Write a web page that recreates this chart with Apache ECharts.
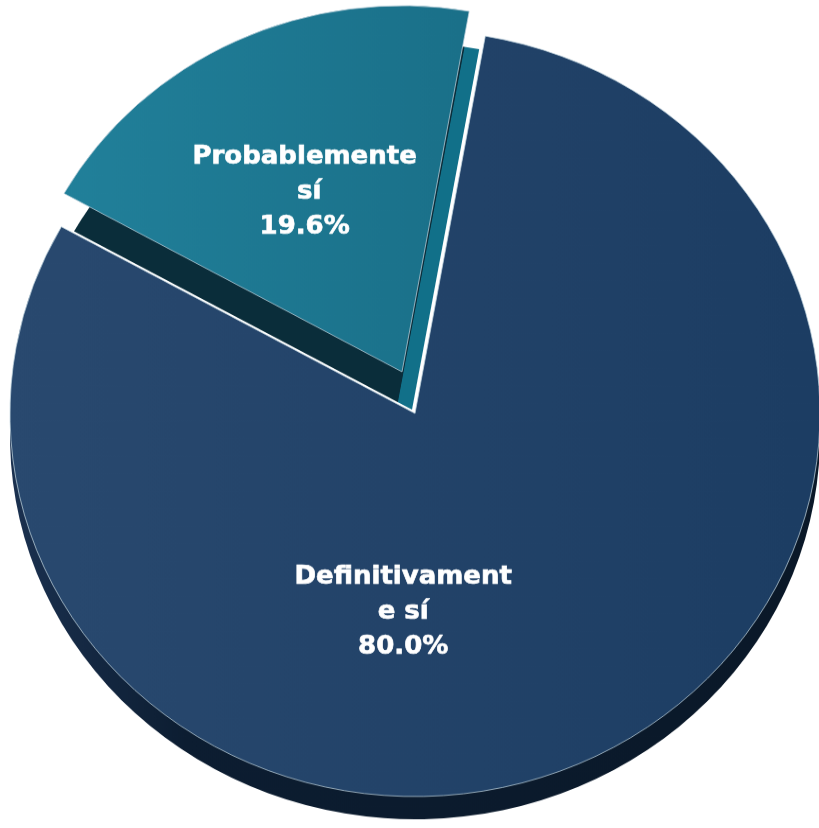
<!DOCTYPE html>
<html>
<head>
<meta charset="utf-8">
<script src="https://cdn.jsdelivr.net/npm/echarts@6/dist/echarts.min.js"></script>
<style>
  html, body { margin: 0; padding: 0; background: #ffffff; overflow: hidden; }
  /* the pie is viewed slightly tilted, so the drawing is flattened vertically */
  #chart { width: 819px; height: 875px; transform: scaleY(0.946); transform-origin: 0 0; }
</style>
</head>
<body>
<div id="chart"></div>
<script>
// Answer categories and their shares (%)
const categories = ['Definitivamente sí', 'Probablemente sí'];
const shares = [80.0, 19.6];

const START = 80;           // first slice starts just right of 12 o'clock
const main = { c: [415, 437], r: 405, side: [0, 24] };    // large slice
const pulled = { c: [402, 393], r: 387, side: [10, 40] }; // exploded slice, further back

const transparent = 'rgba(0,0,0,0)';

function hGrad(stops) {
  return new echarts.graphic.LinearGradient(0, 0, 1, 0,
    stops.map(s => ({ offset: s[0], color: s[1] })));
}

// dark side under the exploded slice, with the lighter sliver along its right edge
const pulledSide = new echarts.graphic.LinearGradient(439.3, 77.6, 478.7, 84.6, [
  { offset: 0, color: '#0a2d3a' },
  { offset: 0.49, color: '#0a2d3a' },
  { offset: 0.51, color: '#117089' },
  { offset: 1, color: '#117089' }
], true);

const styles = {
  mainTop: hGrad([[0, '#29496f'], [1, '#1c3d63']]),
  mainSide: hGrad([[0, '#1b3150'], [0.22, '#0c1d31'], [1, '#0a1828']]),
  pulledTop: hGrad([[0, '#21809a'], [1, '#1a7089']]),
  pulledSide: pulledSide
};

// one item visible, the other kept only so the angles follow the data
function buildData(visible, color, withLabel) {
  return categories.map((name, i) => ({
    name: name,
    value: shares[i],
    itemStyle: i === visible
      ? { color: color }
      : { color: transparent, borderWidth: 0 },
    label: { show: withLabel && i === visible }
  }));
}

const labelStyle = {
  position: 'inside',
  color: '#ffffff',
  fontFamily: 'DejaVu Sans',
  fontWeight: 'bold',
  fontSize: 26,
  lineHeight: 37,
  align: 'center',
  width: 228,
  overflow: 'break',
  textBorderColor: '#ffffff',
  textBorderWidth: 0.7,
  formatter: p => p.name + '\n' + p.value.toFixed(1) + '%'
};

function pie(geom, offset, data, z, extra) {
  return Object.assign({
    type: 'pie',
    silent: true,
    center: [geom.c[0] + offset[0], geom.c[1] + offset[1]],
    radius: [0, geom.r],
    startAngle: START,
    clockwise: true,
    emphasis: { disabled: true },
    labelLine: { show: false },
    label: { show: false },
    itemStyle: { borderWidth: 0 },
    z: z,
    data: data
  }, extra || {});
}

const border = { borderColor: 'rgba(190,210,220,0.75)', borderWidth: 1 };

const chart = echarts.init(document.getElementById('chart'), null, { renderer: 'canvas' });
chart.setOption({
  animation: false,
  series: [
    pie(pulled, pulled.side, buildData(1, styles.pulledSide, false), 1),
    pie(pulled, [0, 0], buildData(1, styles.pulledTop, true), 2, {
      itemStyle: border,
      label: labelStyle,
      labelLayout: () => ({ dx: -13, dy: -12 })
    }),
    pie(main, main.side, buildData(0, styles.mainSide, false), 3),
    pie(main, [0, 0], buildData(0, styles.mainTop, true), 4, {
      itemStyle: border,
      label: labelStyle,
      labelLayout: () => ({ dx: -100, dy: 25 })
    })
  ]
});
</script>
</body>
</html>
